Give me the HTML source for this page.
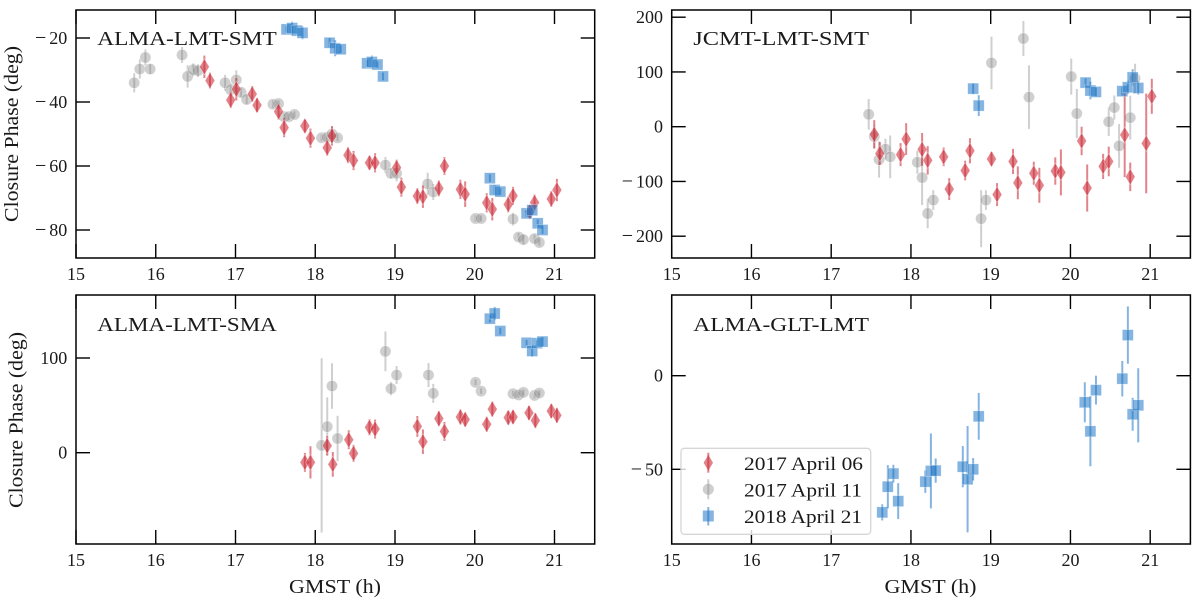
<!DOCTYPE html>
<html>
<head>
<meta charset="utf-8">
<title>Closure phase panels</title>
<style>
html,body{margin:0;padding:0;background:#fff;}
svg{display:block;}
text{font-family:"Liberation Serif",serif;fill:#1a1a1a;}
</style>
</head>
<body>
<svg id="chart" xmlns="http://www.w3.org/2000/svg" width="1200" height="601" viewBox="0 0 1200 601">
<g id="plots"></g>
<text x="97.3" y="45" font-size="20.5" textLength="179.5" lengthAdjust="spacingAndGlyphs">ALMA-LMT-SMT</text>
<text x="693.3" y="45" font-size="20.5" textLength="175.7" lengthAdjust="spacingAndGlyphs">JCMT-LMT-SMT</text>
<text x="97.3" y="331" font-size="20.5" textLength="179.5" lengthAdjust="spacingAndGlyphs">ALMA-LMT-SMA</text>
<text x="693.3" y="331" font-size="20.5" textLength="175.7" lengthAdjust="spacingAndGlyphs">ALMA-GLT-LMT</text>
<text transform="translate(18,134) rotate(-90)" text-anchor="middle" font-size="19.5" textLength="176" lengthAdjust="spacingAndGlyphs">Closure Phase (deg)</text>
<text transform="translate(22.5,420) rotate(-90)" text-anchor="middle" font-size="19.5" textLength="176" lengthAdjust="spacingAndGlyphs">Closure Phase (deg)</text>
<text x="335" y="593" text-anchor="middle" font-size="19.5" textLength="92" lengthAdjust="spacingAndGlyphs">GMST (h)</text>
<text x="930.5" y="593" text-anchor="middle" font-size="19.5" textLength="92" lengthAdjust="spacingAndGlyphs">GMST (h)</text>
<g>
<rect x="681" y="448.3" width="189.7" height="86" rx="3.5" fill="#fff" fill-opacity="0.8" stroke="#d6d6d6" stroke-width="1.3"/>
<g>
<line x1="708.3" x2="708.3" y1="452.7" y2="472.7" stroke="#cc2a36" stroke-opacity="0.58" stroke-width="2"/>
<polygon points="708.3,454.7 713,462.7 708.3,470.7 703.6,462.7" fill="#cc2a36" fill-opacity="0.58"/>
<text x="744" y="470" font-size="18.5" textLength="119" lengthAdjust="spacingAndGlyphs">2017 April 06</text>
</g>
<g>
<line x1="708.3" x2="708.3" y1="479.3" y2="499.3" stroke="#808080" stroke-opacity="0.38" stroke-width="2"/>
<circle cx="708.3" cy="489.3" r="5.6" fill="#808080" fill-opacity="0.38"/>
<text x="744" y="496.7" font-size="18.5" textLength="118" lengthAdjust="spacingAndGlyphs">2017 April 11</text>
</g>
<g>
<line x1="708.3" x2="708.3" y1="507" y2="525.5" stroke="#1f77c4" stroke-opacity="0.55" stroke-width="2"/>
<rect x="702.8" y="510.5" width="11" height="11" fill="#1f77c4" fill-opacity="0.55"/>
<text x="744" y="523" font-size="18.5" textLength="118" lengthAdjust="spacingAndGlyphs">2018 April 21</text>
</g>
</g>
</svg>
<script>
// Shared axis ticks
const xTicks = [15, 16, 17, 18, 19, 20, 21];
const yTicksAlmaLmtSmt = [-20, -40, -60, -80];
const yTicksJcmtLmtSmt = [200, 100, 0, -100, -200];
const yTicksAlmaLmtSma = [100, 0];
const yTicksAlmaGltLmt = [0, -50];

// ALMA-LMT-SMT
const smtRedX = [16.61,16.68,16.94,17.01,17.21,17.27,17.54,17.61,17.87,17.94,18.15,18.21,18.41,18.48,18.68,18.75,19.02,19.08,19.28,19.35,19.55,19.62,19.82,19.88,20.15,20.22,20.42,20.48,20.69,20.75,20.96,21.03];
const smtRedY = [-29,-33.3,-39.4,-36,-37.5,-41,-43,-48,-47.5,-51.3,-54.3,-50.6,-56.6,-58.3,-59,-59,-60.5,-66.6,-69.4,-69.6,-67,-60,-67.3,-68.8,-71.5,-73.5,-72,-69.3,-74.3,-71.4,-70.3,-67.5];
const smtRedErr = [3.5,2.5,2.5,3.5,2.5,2.2,2.5,3,2,3,2.5,3,2.5,3,2.2,3,2.5,3,2.5,3.5,2.5,2.8,3,4,3,3.5,2.5,2.8,2,2.5,2.5,3.5];
const smtGrayX = [15.73,15.8,15.87,15.93,16.33,16.4,16.47,16.53,16.87,16.94,17.01,17.07,17.14,17.47,17.54,17.61,17.67,17.74,18.08,18.15,18.21,18.28,18.88,18.95,19.02,19.41,19.48,20.01,20.08,20.48,20.55,20.61,20.75,20.81];
const smtGrayY = [-34,-29.7,-26.1,-29.7,-25.3,-32,-29.9,-30.2,-34,-36.2,-33.1,-37,-39.2,-40.7,-40.5,-44.6,-44.6,-43.9,-51.2,-51,-50,-51.2,-59.7,-62.3,-62.3,-65.6,-68.1,-76.4,-76.4,-76.6,-82.2,-83,-82.7,-83.9];
const smtGrayErr = [3,3,2.5,1.5,2.5,3.5,2,2,2.5,2,3,1.5,1.5,1.2,1,1,1,1,1,1,2.5,1,2.5,1.5,2.5,3.5,2.5,1,1,2,1.2,1.5,1.2,1];
const smtBlueX = [17.64,17.71,17.77,17.84,18.18,18.25,18.32,18.65,18.71,18.78,18.85,20.19,20.25,20.32,20.65,20.72,20.79,20.85];
const smtBlueY = [-17.3,-16.9,-17.7,-18.4,-21.5,-23.2,-23.5,-27.9,-27.5,-28.3,-32,-63.8,-67.5,-68,-74.8,-73.8,-77.9,-80];
const smtBlueErr = [1,2,1,2,1.5,2.5,1.2,1,2,1,1.2,1.2,1.5,1,1,1.5,1.2,1.2];

// JCMT-LMT-SMT
const jcmtRedX = [17.54,17.61,17.87,17.94,18.14,18.21,18.41,18.48,18.68,18.74,19.01,19.08,19.28,19.34,19.54,19.61,19.81,19.88,20.14,20.21,20.41,20.48,20.68,20.75,20.95,21.02];
const jcmtRedY = [-14,-49,-51,-22.5,-41.5,-61.5,-55,-114,-80,-44,-59,-124,-63.5,-102.5,-85,-107,-81,-83.5,-26,-112,-72.5,-63.5,-15,-91.5,-30.5,55.5];
const jcmtRedErr = [26,21,21,29,30,26,17,20,18,23,13,21,23,30,21,32,25,42,26,43,23,27,77,26,91,32];
const jcmtGrayX = [17.47,17.54,17.6,17.68,17.74,18.08,18.14,18.21,18.28,18.88,18.94,19.01,19.41,19.48,20.01,20.08,20.48,20.55,20.61,20.75,20.81];
const jcmtGrayY = [22.6,-18,-60,-41,-55,-65,-93,-158.5,-134,-168,-134,116.5,161,54,91.5,24,9,35,-35,16.5,88];
const jcmtGrayErr = [28,21,33,19,39,21,50,27,18,52,18,48,32,58,33,45,26,22,40,40,27];
const jcmtBlueX = [18.78,18.85,20.19,20.25,20.32,20.65,20.72,20.78,20.85];
const jcmtBlueY = [69.5,38.5,80.5,66,63.5,65,72,90,70.7];
const jcmtBlueErr = [10,19,8,16,8,8,12,15,12];

// ALMA-LMT-SMA
const smaRedX = [17.87,17.94,18.15,18.22,18.42,18.48,18.68,18.75,19.28,19.35,19.55,19.62,19.82,19.88,20.15,20.22,20.42,20.48,20.68,20.76,20.96,21.03];
const smaRedY = [-10.2,-10.2,7.4,-12.3,13.7,-0.7,26.8,25,27.8,11.6,36,22.5,37.7,35,30,46,37,37.7,42,34,44,39.4];
const smaRedErr = [10,17,10,13,10,9,8.5,10,11,13,8,10,8,7.5,8,8,7.5,7,7.5,8,7.5,8];
const smaGrayX = [18.08,18.15,18.21,18.28,18.88,18.95,19.02,19.42,19.48,20.01,20.08,20.48,20.55,20.61,20.75,20.81];
const smaGrayY = [7.7,27.5,70.4,15,107,67.6,82,82,62.7,74.3,65,62.3,61,63.7,60.5,63];
const smaGrayErr = [92,31,24,24,21,7,9.5,12.7,10,3,3,3,3,3,3,3];
const smaBlueX = [20.19,20.25,20.32,20.65,20.72,20.78,20.85];
const smaBlueY = [141.5,147,128.5,116,107.4,115.7,117.3];
const smaBlueErr = [4,7,3.5,3,6,3,5];

// ALMA-GLT-LMT
const gltBlueX = [17.64,17.71,17.78,17.84,18.18,18.25,18.31,18.65,18.71,18.78,18.85,20.18,20.25,20.32,20.65,20.72,20.78,20.85];
const gltBlueY = [-73,-59.3,-52.3,-67,-56.6,-50.9,-50.7,-48.6,-55.3,-50,-21.7,-14.2,-29.7,-7.7,-1.6,21.7,-20.6,-15.8];
const gltBlueErr = [4.3,11.5,4.7,9.6,6,20,6.5,11,28.4,6,12.5,10.7,18.7,7.7,9.5,15.3,8.8,19.8];

const NS = 'http://www.w3.org/2000/svg';
const root = document.getElementById('plots');
const RED = '#cc2a36', GRAY = '#808080', BLUE = '#1f77c4';

function make(tag, attrs, parent) {
  const el = document.createElementNS(NS, tag);
  for (const k in attrs) el.setAttribute(k, attrs[k]);
  parent.appendChild(el);
  return el;
}

function drawSeries(parent, xs, ys, errs, sx, sy, kind, label) {
  const color = kind === 'diamond' ? RED : kind === 'circle' ? GRAY : BLUE;
  const alpha = kind === 'circle' ? 0.38 : kind === 'diamond' ? 0.58 : 0.55;
  const edge = { stroke: '#fff', 'stroke-opacity': 0.5, 'stroke-width': 0.6 };
  const g = make('g', {}, parent);
  
  
  xs.forEach((v, i) => {
    const px = sx(v), py = sy(ys[i]);
    const bar = make('line', { x1: px, x2: px, y1: sy(ys[i] + errs[i]), y2: sy(ys[i] - errs[i]), stroke: color, 'stroke-opacity': alpha, 'stroke-width': 2 }, g);
    
    
    let mark;
    if (kind === 'diamond') {
      mark = make('polygon', Object.assign({ points: px + ',' + (py - 8) + ' ' + (px + 4.9) + ',' + py + ' ' + px + ',' + (py + 8) + ' ' + (px - 4.9) + ',' + py, fill: color, 'fill-opacity': alpha }, edge), g);
    } else if (kind === 'circle') {
      mark = make('circle', Object.assign({ cx: px, cy: py, r: 5.6, fill: color, 'fill-opacity': alpha }, edge), g);
    } else {
      mark = make('rect', Object.assign({ x: px - 5.5, y: py - 5.5, width: 11, height: 11, fill: color, 'fill-opacity': alpha }, edge), g);
    }
    
    
  });
}

function drawPanel(cfg) {
  const g = make('g', {}, root);
  
  
  const sx = v => cfg.left + (v - 15) * 79.75;
  const sy = v => cfg.zeroY - v * cfg.pxPerUnit;
  const right = cfg.left + 518.7;

  if (cfg.gray) drawSeries(g, cfg.gray[0], cfg.gray[1], cfg.gray[2], sx, sy, 'circle', 'series-2017-april-11');
  if (cfg.red) drawSeries(g, cfg.red[0], cfg.red[1], cfg.red[2], sx, sy, 'diamond', 'series-2017-april-06');
  drawSeries(g, cfg.blue[0], cfg.blue[1], cfg.blue[2], sx, sy, 'square', 'series-2018-april-21');

  const tickStyle = { stroke: '#000', 'stroke-width': 1.4 };
  xTicks.forEach(t => {
    const px = sx(t);
    const a = make('line', Object.assign({ x1: px, x2: px, y1: cfg.bottom, y2: cfg.bottom - 14 }, tickStyle), g);
    
    
    const b = make('line', Object.assign({ x1: px, x2: px, y1: cfg.top, y2: cfg.top + 14 }, tickStyle), g);
    
    
    const lab = make('text', { x: px, y: cfg.bottom + 22, 'text-anchor': 'middle', 'font-size': 18 }, g);
    lab.textContent = String(t);
    
    
  });
  cfg.yTicks.forEach(t => {
    const py = sy(t);
    const a = make('line', Object.assign({ x1: cfg.left, x2: cfg.left + 14, y1: py, y2: py }, tickStyle), g);
    
    
    const b = make('line', Object.assign({ x1: right, x2: right - 14, y1: py, y2: py }, tickStyle), g);
    
    
    const lab = make('text', { x: cfg.left - 8.7, y: py + 6, 'text-anchor': 'end', 'font-size': 18 }, g);
    if (t < 0) {
      const m = make('tspan', { 'letter-spacing': '3px', 'font-size': 20 }, lab);
      m.textContent = '\u2212';
      const d = make('tspan', {}, lab);
      d.textContent = String(-t);
    } else {
      lab.textContent = String(t);
    }
    
    
  });
  const frame = make('rect', { x: cfg.left, y: cfg.top, width: 518.7, height: cfg.bottom - cfg.top, fill: 'none', stroke: '#000', 'stroke-width': 1.5 }, g);
  
  
}

drawPanel({ name: 'panel-alma-lmt-smt', left: 76, top: 10, bottom: 258, zeroY: -26, pxPerUnit: 3.2, yTicks: yTicksAlmaLmtSmt,
  red: [smtRedX, smtRedY, smtRedErr], gray: [smtGrayX, smtGrayY, smtGrayErr], blue: [smtBlueX, smtBlueY, smtBlueErr] });
drawPanel({ name: 'panel-jcmt-lmt-smt', left: 671.7, top: 10, bottom: 258, zeroY: 126.7, pxPerUnit: 0.5475, yTicks: yTicksJcmtLmtSmt,
  red: [jcmtRedX, jcmtRedY, jcmtRedErr], gray: [jcmtGrayX, jcmtGrayY, jcmtGrayErr], blue: [jcmtBlueX, jcmtBlueY, jcmtBlueErr] });
drawPanel({ name: 'panel-alma-lmt-sma', left: 76, top: 295, bottom: 544, zeroY: 452.7, pxPerUnit: 0.947, yTicks: yTicksAlmaLmtSma,
  red: [smaRedX, smaRedY, smaRedErr], gray: [smaGrayX, smaGrayY, smaGrayErr], blue: [smaBlueX, smaBlueY, smaBlueErr] });
drawPanel({ name: 'panel-alma-glt-lmt', left: 671.7, top: 295, bottom: 544, zeroY: 375.7, pxPerUnit: 1.872, yTicks: yTicksAlmaGltLmt,
  blue: [gltBlueX, gltBlueY, gltBlueErr] });
</script>
</body>
</html>
